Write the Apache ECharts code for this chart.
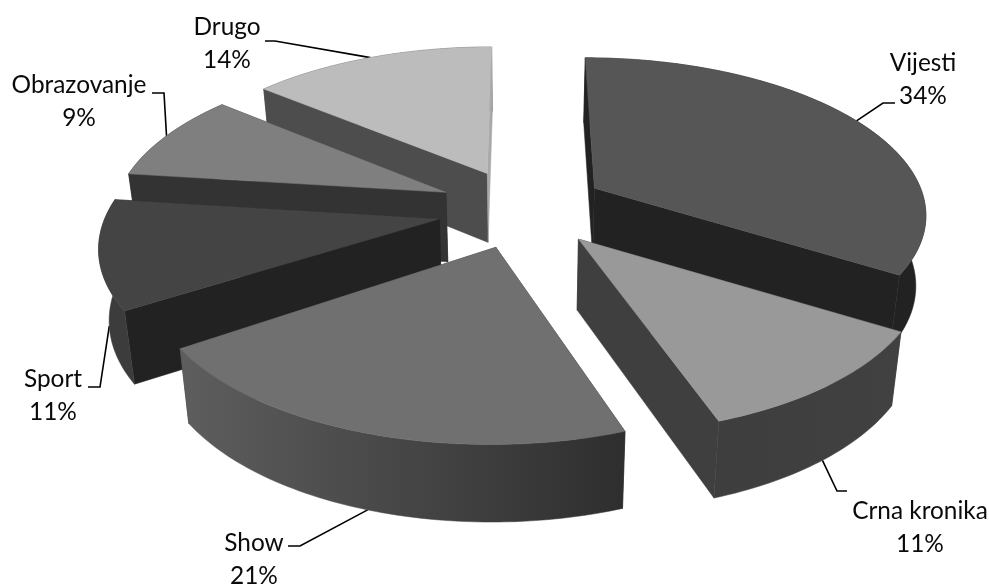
<!DOCTYPE html>
<html><head><meta charset="utf-8">
<style>html,body{margin:0;padding:0;background:#fff}#c{width:989px;height:588px}</style>
<script src="https://cdn.jsdelivr.net/npm/echarts@6/dist/echarts.min.js"></script>
</head><body><div id="c"></div>
<script>
const categories = ['Vijesti','Crna kronika','Show','Sport','Obrazovanje','Drugo'];
const values = [34,11,21,11,9,14];
const percentLabels = ['34%','11%','21%','11%','9%','14%'];

// styling / layout, separate from the data
const topColors = ['#565656','#999999','#707070','#444444','#7f7f7f','#bcbcbc'];
const startWall = ['#222222','#3f3f3f','#3a3a3a','#222222','#333333','#4d4d4d'];
const endWall   = ['#222222','#3f3f3f','#3a3a3a','#222222','#333333','#a8a8a8'];
const outerWall = [['#222222','#222222'],['#3e3e3e','#414141'],['#5e5e5e','#2e2e2e'],['#3c3c3c','#3c3c3c'],['#333333','#333333'],['#4d4d4d','#4d4d4d']];
const endWallOnTop = [false,false,false,false,false,true];
const paintOrder = [5,4,3,0,1,2];
const labelPos = [[923,63],[920,511],[254,543],[53,379],[79,85],[227,27]];
const leaderElbow = [[[883,103],[895,103]],[[837,491],[847,491]],[[300,546],[288,546]],[[100,387],[88,387]],[[164,93],[152,93]],[[275,41],[265,41]]];
const leaderOnWall = [false,true,true,true,false,false];
const sliceShift = [[-1,-1],[2,0],[1,2],[-3,3],[-3,0],[-2.5,0]];
const sliceTurn = [0,0.02,0.025,0,0,0];

const CX=524, CY=207.5, S=332, T=155, P=0.15, EXPLODE=0.25, WALL=70, BOTTOM_SHRINK=0.975;

const total = values.reduce((a,b)=>a+b,0);
const spans=[]; let acc=0;
values.forEach(v=>{const a0=acc/total*2*Math.PI; acc+=v; spans.push([a0,acc/total*2*Math.PI]);});

function project(i,r,a,mid,down){
  const t=a-sliceTurn[i];
  const X=r*Math.sin(t)+EXPLODE*Math.sin(mid), Y=r*Math.cos(t)+EXPLODE*Math.cos(mid);
  const D=1+P*Y;
  const xs=S*X/D*(down?BOTTOM_SHRINK:1);
  return [CX+xs+sliceShift[i][0], CY-T*Y/D+(down?WALL/Math.sqrt(D):0)+sliceShift[i][1]];
}
function arc(i,a0,a1,mid,down){
  const pts=[]; const n=Math.max(8,Math.ceil((a1-a0)/0.02));
  for(let k=0;k<=n;k++) pts.push(project(i,1,a0+(a1-a0)*k/n,mid,down));
  return pts;
}
function renderSlice(params,api){
  const i=api.value(0); const [a0,a1]=spans[i]; const mid=(a0+a1)/2;
  const top=arc(i,a0,a1,mid,false), bot=arc(i,a0,a1,mid,true);
  const apex=project(i,0,0,mid,false), apexB=project(i,0,0,mid,true);
  const poly=(points,fill)=>({type:'polygon',shape:{points},style:{fill,stroke:fill,lineWidth:0.5}});
  const startW=poly([apex,top[0],bot[0],apexB],startWall[i]);
  const endW=poly([apex,top[top.length-1],bot[bot.length-1],apexB],endWall[i]);
  const outer=poly(top.concat(bot.slice().reverse()),new echarts.graphic.LinearGradient(0,0,1,0,[{offset:0,color:outerWall[i][0]},{offset:1,color:outerWall[i][1]}]));
  const face=poly([apex].concat(top),topColors[i]);
  const children=endWallOnTop[i]?[startW,outer,endW,face]:[startW,endW,outer,face];
  return {type:'group',children};
}
function renderLabel(params,api){
  const i=api.value(0); const [a0,a1]=spans[i]; const mid=(a0+a1)/2;
  const anchor=project(i,1,mid,mid,leaderOnWall[i]);
  const p=labelPos[i];
  const text=(t,y)=>({type:'text',style:{text:t,x:p[0],y,fill:'#0a0a0a',font:'24.4px Lato',textAlign:'center',textVerticalAlign:'middle'}});
  return {type:'group',children:[
    {type:'polyline',shape:{points:[anchor].concat(leaderElbow[i])},style:{fill:null,stroke:'#000',lineWidth:1.6}},
    text(categories[i],p[1]),text(percentLabels[i],p[1]+33)
  ]};
}
const chart=echarts.init(document.getElementById('c'),null,{renderer:'canvas'});
chart.setOption({
  animation:false,
  backgroundColor:'#fff',
  series:[
    {type:'custom',coordinateSystem:'none',silent:true,renderItem:renderLabel,data:categories.map((c,i)=>[i]),z:1},
    {type:'custom',coordinateSystem:'none',silent:true,renderItem:renderSlice,data:paintOrder.map(i=>[i]),z:2}
  ]
});
</script></body></html>
